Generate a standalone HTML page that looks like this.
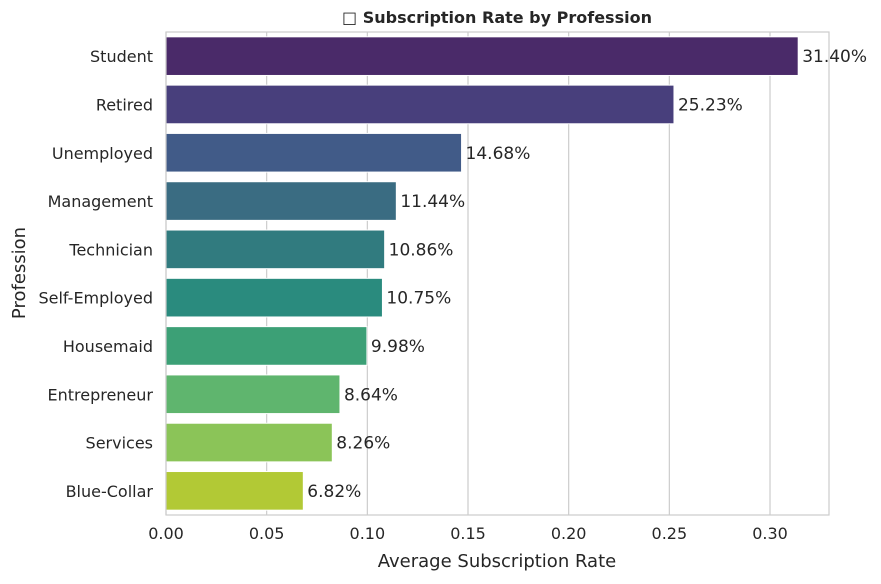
<!DOCTYPE html>
<html><head><meta charset="utf-8"><style>
body{margin:0;background:#fff;font-family:"DejaVu Sans","Liberation Sans",sans-serif;}
svg text{font-family:"DejaVu Sans","Liberation Sans",sans-serif;fill:#262626;}
</style></head><body>
<svg id="chart" width="881" height="580">
<text x="497" y="23" font-size="16" font-weight="bold" text-anchor="middle">□ Subscription Rate by Profession</text>
<g id="grid"></g><g id="bars"></g>
<rect x="166" y="32" width="663" height="483" fill="none" stroke="#cccccc" stroke-width="1.2"/>
<text x="497" y="567" font-size="18" text-anchor="middle">Average Subscription Rate</text>
<text transform="translate(25,273) rotate(-90)" font-size="18" text-anchor="middle">Profession</text>
</svg>
<script>
const categories=["Student","Retired","Unemployed","Management","Technician","Self-Employed","Housemaid","Entrepreneur","Services","Blue-Collar"];
const values=[0.3140,0.2523,0.1468,0.1144,0.1086,0.1075,0.0998,0.0864,0.0826,0.0682];
const colors=["#4a2a69","#483f7c","#415b88","#3a6c82","#317b7f","#2a8b7e","#3ca076","#5fb56e","#8bc458","#b2c935"];
const ticks=[0,0.05,0.10,0.15,0.20,0.25,0.30];
const tickLabels=["0.00","0.05","0.10","0.15","0.20","0.25","0.30"];
const NS="http://www.w3.org/2000/svg";
const x0=166,xMax=0.3293,pw=663,plotTop=32,ph=483;
const xs=v=>x0+v/xMax*pw;
const slot=ph/categories.length;
const g=document.getElementById('grid'),b=document.getElementById('bars');
function mk(t,a,p){const e=document.createElementNS(NS,t);for(const k in a)e.setAttribute(k,a[k]);p.appendChild(e);return e;}
ticks.forEach((t,i)=>{
 const l=mk('line',{x1:xs(t),x2:xs(t),y1:plotTop,y2:plotTop+ph,stroke:'#cccccc','stroke-width':1.2},g);
 
 
 const tx=mk('text',{x:xs(t),y:plotTop+ph+24,'font-size':16,'text-anchor':'middle'},g);
 tx.textContent=tickLabels[i];
 
 
});
categories.forEach((c,i)=>{
 const cy=plotTop+slot*(i+0.5),h=slot*0.8;
 const r=mk('rect',{x:x0,y:cy-h/2,width:xs(values[i])-x0,height:h,fill:colors[i],stroke:'#fff','stroke-width':1},b);
 
 
 const lab=mk('text',{x:153,y:cy+6,'font-size':16,'text-anchor':'end'},b);
 lab.textContent=c;
 
 
 const v=mk('text',{x:xs(values[i])+4,y:cy+6,'font-size':17},b);
 v.textContent=(values[i]*100).toFixed(2)+'%';
 
 
});
</script>
</body></html>
